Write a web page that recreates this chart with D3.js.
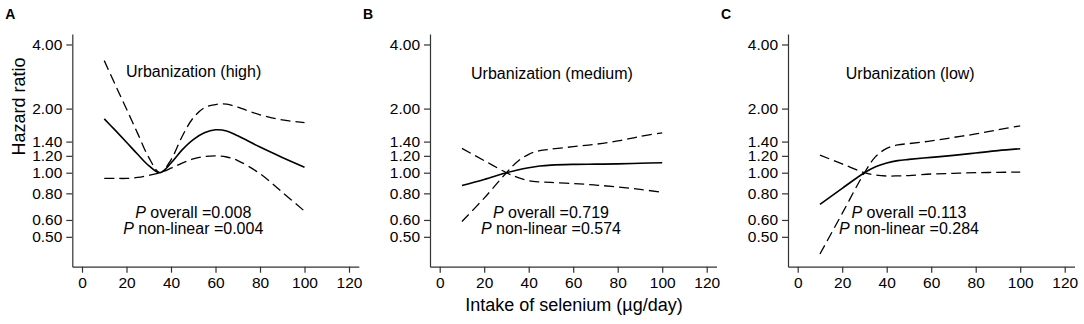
<!DOCTYPE html>
<html>
<head>
<meta charset="utf-8">
<script src="https://cdn.jsdelivr.net/npm/d3@7"></script>
<style>
  body { margin: 0; background: #fff; }
  svg text { font-family: "Liberation Sans", Arial, sans-serif; fill: #000; }
  .axis path, .axis line { stroke: #333; stroke-width: 1.2; }
  .axis text { font-size: 15.5px; }
</style>
</head>
<body>
<div class="chart"></div>
<script>
// tick labels
var yTicks = [0.5, 0.6, 0.8, 1.0, 1.2, 1.4, 2.0, 4.0];
var xTicks = [0, 20, 40, 60, 80, 100, 120];

// panel names
var panelLetters = ['A', 'B', 'C'];
var panelTitles = ['Urbanization (high)', 'Urbanization (medium)', 'Urbanization (low)'];
var pOverall = ['0.008', '0.719', '0.113'];
var pNonlinear = ['0.004', '0.574', '0.284'];

// panel A - high urbanization
var xsA = [10, 15, 20, 25, 30, 35, 40, 45, 50, 55, 60, 65, 70, 80, 90, 100];
var hrA = [1.79, 1.58, 1.39, 1.22, 1.08, 1.0, 1.11, 1.28, 1.43, 1.54, 1.59, 1.57, 1.49, 1.32, 1.18, 1.06];
var upA = [3.36, 2.58, 1.99, 1.53, 1.18, 1.0, 1.15, 1.48, 1.81, 2.02, 2.09, 2.10, 2.03, 1.87, 1.77, 1.72];
var loA = [0.94, 0.94, 0.94, 0.95, 0.972, 1.0, 1.05, 1.11, 1.16, 1.19, 1.20, 1.185, 1.14, 0.99, 0.81, 0.66];

// panel B - medium urbanization
var xsB = [10, 20, 30, 35, 40, 45, 50, 60, 70, 80, 90, 100];
var hrB = [0.87, 0.93, 1.0, 1.03, 1.055, 1.075, 1.086, 1.094, 1.097, 1.10, 1.107, 1.114];
var upB = [0.59, 0.76, 1.0, 1.13, 1.22, 1.27, 1.29, 1.325, 1.36, 1.41, 1.48, 1.54];
var loB = [1.30, 1.14, 1.0, 0.95, 0.917, 0.905, 0.90, 0.89, 0.875, 0.857, 0.835, 0.81];

// panel C - low urbanization
var xsC = [10, 20, 30, 35, 40, 45, 50, 60, 70, 80, 90, 100];
var hrC = [0.71, 0.845, 1.0, 1.067, 1.11, 1.14, 1.155, 1.18, 1.206, 1.237, 1.27, 1.296];
var upC = [0.415, 0.644, 1.0, 1.19, 1.30, 1.35, 1.37, 1.41, 1.465, 1.52, 1.59, 1.66];
var loC = [1.21, 1.10, 1.0, 0.975, 0.965, 0.966, 0.97, 0.986, 0.993, 1.0, 1.004, 1.007];

var panels = [
    { xs: xsA, hr: hrA, up: upA, lo: loA },
    { xs: xsB, hr: hrB, up: upB, lo: loB },
    { xs: xsC, hr: hrC, up: upC, lo: loC }
];

// layout
var width = 1084,
    height = 324,
    panelLeft = [72.3, 430, 788],
    panelW = 286.5,
    plotTop = 34,
    plotBottom = 266.7,
    titlePos = [[19.8, 2.82], [14.1, 2.75], [21.6, 2.75]];

var svg = d3.select(".chart")
    .append("svg")
    .attr("width", width)
    .attr("height", height);

svg.append("rect")
    .attr("width", width)
    .attr("height", height)
    .attr("fill", "#fff");

var y = d3.scaleLog()
    .domain([0.362, 4.48])
    .range([plotBottom, plotTop]);

panels.forEach(function(p, i) {
    var left = panelLeft[i];
    var x = d3.scaleLinear()
        .domain([-4.36, 124.4])
        .range([left, left + panelW]);

    // y axis
    svg.append("g")
        .attr("class", "axis")
        .attr("transform", "translate(" + left + ",0)")
        .call(d3.axisLeft(y)
            .tickValues(yTicks)
            .tickFormat(d3.format(".2f"))
            .tickSizeOuter(0)
            .tickPadding(4));

    // x axis
    svg.append("g")
        .attr("class", "axis")
        .attr("transform", "translate(0," + plotBottom + ")")
        .call(d3.axisBottom(x)
            .tickValues(xTicks)
            .tickSizeOuter(0)
            .tickPadding(4.5));

    var line = d3.line()
        .x(function(d) { return x(d[0]); })
        .y(function(d) { return y(d[1]); })
        .curve(d3.curveCatmullRom.alpha(0.5));

    // confidence limits
    [p.up, p.lo].forEach(function(s) {
        svg.append("path")
            .datum(d3.zip(p.xs, s))
            .attr("d", line)
            .attr("fill", "none")
            .attr("stroke", "#000")
            .attr("stroke-width", 1.3)
            .attr("stroke-dasharray", "10,5");
    });

    // hazard ratio
    svg.append("path")
        .datum(d3.zip(p.xs, p.hr))
        .attr("d", line)
        .attr("fill", "none")
        .attr("stroke", "#000")
        .attr("stroke-width", 1.6);

    // panel letter
    svg.append("text")
        .attr("x", left - 67)
        .attr("y", 19)
        .style("font-size", "14px")
        .style("font-weight", "bold")
        .text(panelLetters[i]);

    // subgroup title
    svg.append("text")
        .attr("x", x(titlePos[i][0]))
        .attr("y", y(titlePos[i][1]))
        .style("font-size", "16px")
        .text(panelTitles[i]);

    // p values
    var t1 = svg.append("text")
        .attr("x", x(50))
        .attr("y", 218.3)
        .attr("text-anchor", "middle")
        .style("font-size", "16px");
    t1.append("tspan").style("font-style", "italic").text("P");
    t1.append("tspan").text(" overall =" + pOverall[i]);

    var t2 = svg.append("text")
        .attr("x", x(50))
        .attr("y", 234.3)
        .attr("text-anchor", "middle")
        .style("font-size", "16px");
    t2.append("tspan").style("font-style", "italic").text("P");
    t2.append("tspan").text(" non-linear =" + pNonlinear[i]);
});

// y label
svg.append("text")
    .attr("transform", "translate(24.5,106.5) rotate(-90)")
    .attr("text-anchor", "middle")
    .style("font-size", "18px")
    .text("Hazard ratio");

// x label
svg.append("text")
    .attr("x", 574)
    .attr("y", 311)
    .attr("text-anchor", "middle")
    .style("font-size", "18px")
    .text("Intake of selenium (\u00b5g/day)");
</script>
</body>
</html>
